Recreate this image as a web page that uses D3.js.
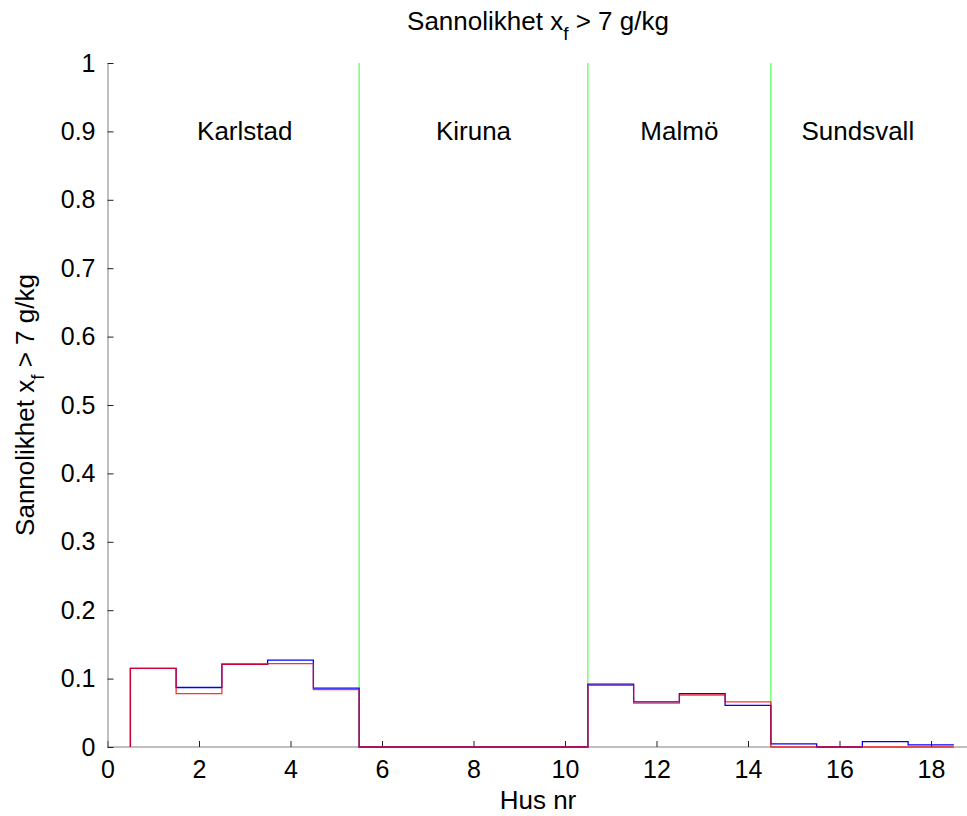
<!DOCTYPE html>
<html><head><meta charset="utf-8">
<script src="https://cdn.jsdelivr.net/npm/d3@7"></script>
<style>body{margin:0;background:#fff}svg{display:block}text{font-family:"Liberation Sans",Arial,sans-serif}</style>
</head><body>
<script>
const houses = d3.range(1, 19);
const blueValues = [0.115,0.087,0.121,0.127,0.086,0,0,0,0,0,0.092,0.066,0.078,0.061,0.0045,0,0.008,0.003];
const redValues  = [0.115,0.078,0.121,0.122,0.084,0,0,0,0,0,0.090,0.064,0.076,0.066,0,0,0,0];
const dividers = [5.5, 10.5, 14.5];
const regions = ["Karlstad","Kiruna","Malmö","Sundsvall"];
const regionPos = [3, 8, 12.5, 16.4];
const xTicks = [0,2,4,6,8,10,12,14,16,18];
const yTicks = [0,0.1,0.2,0.3,0.4,0.5,0.6,0.7,0.8,0.9,1];

const W = 967, H = 816, FS = 25, LS = 26;
const svg = d3.select("body").append("svg").attr("width", W).attr("height", H);
const x = d3.scaleLinear().domain([0, 19]).range([107.5, 107.5 + 19*45.75]);
const y = d3.scaleLinear().domain([0, 1]).range([747, 63]);

// dividers
svg.selectAll("line.div").data(dividers).join("line")
  .attr("x1", d => x(d)).attr("x2", d => x(d))
  .attr("y1", y(0)).attr("y2", y(1))
  .attr("stroke", "#33ff33").attr("stroke-width", 1);

// axes
const xAxis = d3.axisBottom(x).tickValues(xTicks).tickSizeInner(-6).tickSizeOuter(0).tickPadding(13);
const yAxis = d3.axisLeft(y).tickValues(yTicks).tickSizeInner(-6).tickSizeOuter(0).tickPadding(12)
  .tickFormat(d => d === 0 ? "0" : d === 1 ? "1" : d3.format(".1f")(d));
const gx = svg.append("g").attr("transform", `translate(0,${y(0)})`).call(xAxis);
const gy = svg.append("g").attr("transform", `translate(${x(0)},0)`).call(yAxis);
[gx, gy].forEach(g => {
  g.select(".domain").attr("stroke", "#808080");
  g.selectAll(".tick line").attr("stroke", "#222");
  g.selectAll(".tick text").attr("font-size", FS).attr("fill", "#000")
    .style("font-family", '"Liberation Sans",Arial,sans-serif');
});
gx.select(".domain").attr("d", `M${x(0)},0H${W}`);

// stairs
function stairs(vals) {
  const pts = [[0.5, 0]];
  vals.forEach((v, i) => { pts.push([houses[i] - 0.5, v]); pts.push([houses[i] + 0.5, v]); });
  return d3.line().x(d => x(d[0])).y(d => y(d[1]))(pts);
}
svg.append("path").attr("d", stairs(blueValues)).attr("fill", "none")
  .attr("stroke", "#0000ff").attr("stroke-width", 1.3);
svg.append("path").attr("d", stairs(redValues)).attr("fill", "none")
  .attr("stroke", "#ff0000").attr("stroke-width", 1.3).attr("stroke-opacity", 0.8);

// region labels
svg.selectAll("text.reg").data(regions).join("text")
  .attr("x", (d, i) => x(regionPos[i])).attr("y", y(0.9) + 9)
  .attr("text-anchor", "middle").attr("font-size", LS).text(d => d);

// title
const t = svg.append("text").attr("x", 538).attr("y", 30).attr("text-anchor", "middle").attr("font-size", LS);
t.append("tspan").text("Sannolikhet x");
t.append("tspan").attr("dy", 10).attr("font-size", 19).text("f");
t.append("tspan").attr("dy", -10).text(" > 7 g/kg");

// x label
svg.append("text").attr("x", 538).attr("y", 809).attr("text-anchor", "middle").attr("font-size", LS).text("Hus nr");

// y label
const yl = svg.append("text").attr("transform", "translate(34,405) rotate(-90)")
  .attr("text-anchor", "middle").attr("font-size", LS);
yl.append("tspan").text("Sannolikhet x");
yl.append("tspan").attr("dy", 10).attr("font-size", 19).text("f");
yl.append("tspan").attr("dy", -10).text(" > 7 g/kg");
</script>
</body></html>
